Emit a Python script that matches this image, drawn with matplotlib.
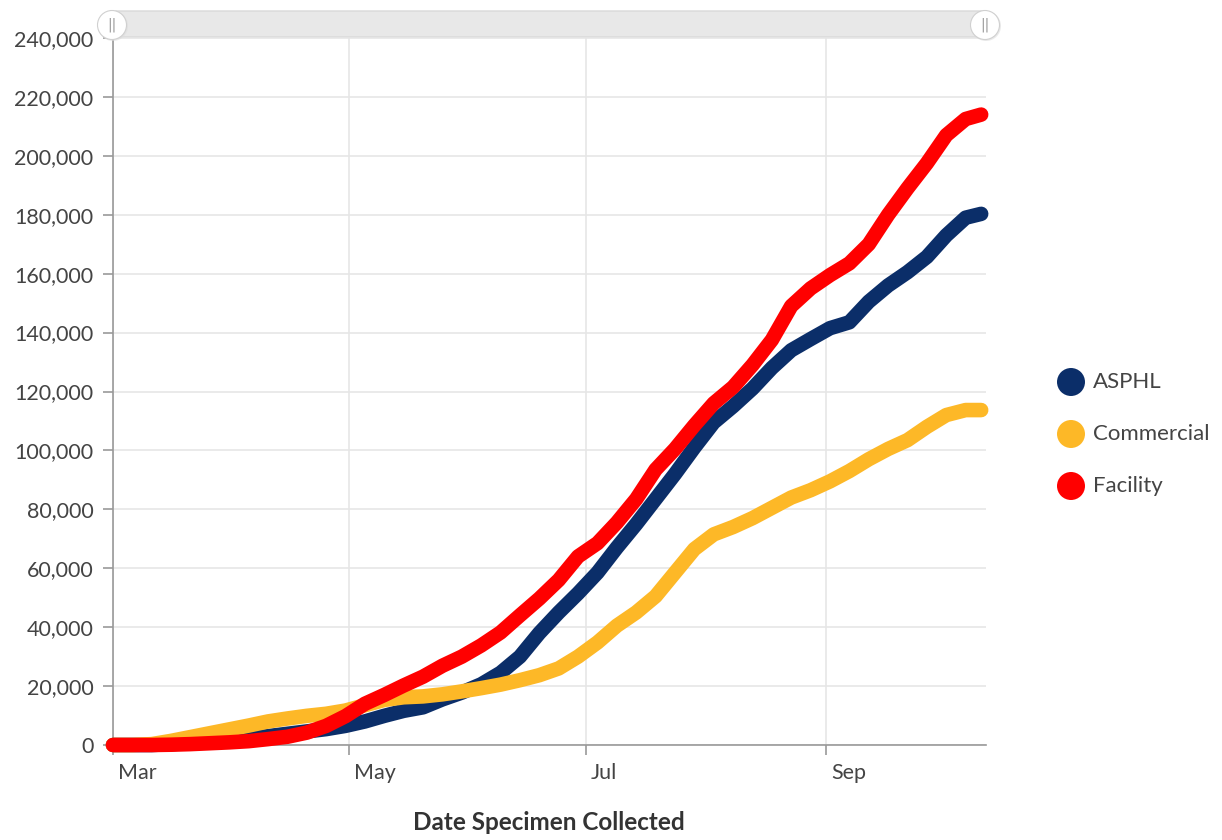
import matplotlib
matplotlib.use('Agg')
import matplotlib.pyplot as plt
import matplotlib.patches as mpatches
import matplotlib.transforms as mtransforms
from matplotlib.ticker import FuncFormatter
import pandas as pd

# cumulative specimens by collection date, read every 5 days off the chart
dates = ['2020-03-01', '2020-03-06', '2020-03-11', '2020-03-16', '2020-03-21', '2020-03-26',
         '2020-03-31', '2020-04-05', '2020-04-10', '2020-04-15', '2020-04-20', '2020-04-25',
         '2020-04-30', '2020-05-05', '2020-05-10', '2020-05-15', '2020-05-20', '2020-05-25',
         '2020-05-30', '2020-06-04', '2020-06-09', '2020-06-14', '2020-06-19', '2020-06-24',
         '2020-06-29', '2020-07-04', '2020-07-09', '2020-07-14', '2020-07-19', '2020-07-24',
         '2020-07-29', '2020-08-03', '2020-08-08', '2020-08-13', '2020-08-18', '2020-08-23',
         '2020-08-28', '2020-09-02', '2020-09-07', '2020-09-12', '2020-09-17', '2020-09-22',
         '2020-09-27', '2020-10-02', '2020-10-07', '2020-10-11']

asphl = [0, 0, 0, 300, 700, 1200, 1700, 2300, 3000, 3800, 4600, 5400,
         6500, 8000, 9900, 11600, 12800, 15500, 17800, 20600, 24500, 30000,
         38000, 45000, 51500, 58500, 67000, 75000, 83500, 92000, 101000, 109500,
         115000, 121000, 128000, 134000, 137800, 141500, 143500, 150500, 156000,
         160500, 165700, 173000, 179000, 180300]

commercial = [0, 0, 300, 1400, 2700, 4000, 5300, 6600, 8000, 9000, 9900, 10600,
              11700, 13500, 15300, 16200, 16500, 17200, 18200, 19300, 20500, 22000,
              23700, 26000, 30000, 34800, 40500, 45000, 50500, 58500, 66500, 71500,
              74000, 77000, 80500, 84000, 86500, 89500, 93000, 97000, 100500,
              103500, 108000, 112000, 113700, 113700]

facility = [0, 0, 0, 100, 300, 600, 900, 1300, 2000, 2800, 4200, 6500,
            9800, 14000, 17000, 20200, 23200, 26900, 30000, 33800, 38200, 44000,
            49700, 56000, 64000, 68500, 75500, 83500, 93500, 100500, 108500, 116000,
            121500, 129000, 137500, 149000, 155000, 159500, 163500, 170000, 180000,
            189000, 197500, 207000, 212500, 214000]

series = ['ASPHL', 'Commercial', 'Facility']
colors = ['#0b2e69', '#fdb827', '#ff0000']
month_ticks = ['2020-03-01', '2020-05-01', '2020-07-01', '2020-09-01']
month_labels = ['Mar', 'May', 'Jul', 'Sep']

plt.rcParams['font.family'] = ['Lato', 'DejaVu Sans']

W, H = 1222, 840
fig = plt.figure(figsize=(W / 100, H / 100), dpi=100)
ax = fig.add_axes([113 / W, 1 - 745 / H, (986 - 113) / W, (745 - 38) / H])

x = pd.to_datetime(dates)
for vals, c, name in zip([asphl, commercial, facility], colors, series):
    ax.plot(x, vals, color=c, lw=10.5, solid_capstyle='round',
            solid_joinstyle='round', clip_on=False, label=name, zorder=3)

ax.set_ylim(0, 240000)
ax.set_xlim(pd.Timestamp('2020-03-01'), pd.Timestamp('2020-10-12 06:00'))
ax.set_yticks(range(0, 240001, 20000))
ax.yaxis.set_major_formatter(FuncFormatter(lambda v, p: f'{int(v):,}'))
ax.set_xticks(pd.to_datetime(month_ticks))
ax.set_xticklabels(month_labels)

ax.grid(True, color='#e6e6e6', lw=1.2)
ax.set_axisbelow(True)
for s in ['top', 'right']:
    ax.spines[s].set_visible(False)
for s in ['left', 'bottom']:
    ax.spines[s].set_color('#999999')
    ax.spines[s].set_linewidth(1.2)

ax.tick_params(axis='both', colors='#999999', labelcolor='#444444',
               labelsize=15.5, length=7, width=1.2)
ax.tick_params(axis='y', pad=7)
ax.tick_params(axis='x', pad=6)
offset = mtransforms.ScaledTranslation(5 / 100, 0, fig.dpi_scale_trans)
for lab in ax.get_xticklabels():
    lab.set_horizontalalignment('left')
    lab.set_transform(lab.get_transform() + offset)

fig.text(549 / W, 1 - 822 / H, 'Date Specimen Collected', ha='center', va='center',
         fontsize=17.5, fontweight='bold', color='#333333')

# range slider on top
tr = fig.dpi_scale_trans
bar = mpatches.FancyBboxPatch((1.13, (H - 37) / 100), 8.72, 0.26,
                              boxstyle='round,pad=0,rounding_size=0.03',
                              facecolor='#e8e8e8', edgecolor='#d9d9d9', lw=1,
                              transform=tr)
fig.add_artist(bar)
for hx in [1.12, 9.85]:
    fig.add_artist(mpatches.Circle((hx + 0.01, (H - 26) / 100), 0.15, transform=tr,
                                   facecolor='#dddddd', edgecolor='none', alpha=0.6))
    fig.add_artist(mpatches.Circle((hx, (H - 25) / 100), 0.145, transform=tr,
                                   facecolor='white', edgecolor='#d0d0d0', lw=0.8))
    fig.text(hx / (W / 100), 1 - 25 / H, '||', ha='center', va='center',
             fontsize=10, color='#999999', family='DejaVu Sans')

# legend
for i, (name, c) in enumerate(zip(series, colors)):
    yy = (H - (382 + 52 * i)) / 100
    fig.add_artist(mpatches.Circle((10.71, yy), 0.14, transform=tr,
                                   facecolor=c, edgecolor='none'))
    fig.text(1093 / W, yy / (H / 100), name, ha='left', va='center',
             fontsize=16, color='#444444')

fig.savefig('out.png', dpi=100)
